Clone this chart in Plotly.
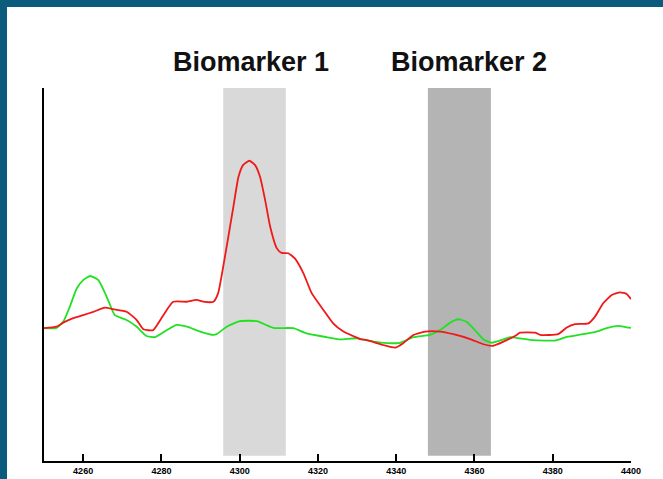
import plotly.graph_objects as go

# Mass-to-charge positions (m/z) and intensities of the two spectra
red_mz = [4250, 4253.2, 4254.9, 4257.5, 4260.0, 4262.6, 4265.6, 4267.7, 4271.1, 4273.7,
          4275.4, 4277.9, 4280.5, 4283.0, 4286.5, 4289.0, 4290.7, 4293.3, 4294.5, 4295.8,
          4297.1, 4298.4, 4299.7, 4300.9, 4302.5, 4303.9, 4305.2, 4306.5, 4307.8, 4309.5,
          4310.7, 4312.4, 4314.1, 4316.3, 4318.4, 4321.4, 4323.9, 4326.5, 4329.0, 4330.8,
          4332.5, 4336.7, 4339.7, 4341.8, 4344.4, 4347.4, 4351.2, 4354.6, 4358.9, 4362.3,
          4364.8, 4367.4, 4370.8, 4371.6, 4375.5, 4376.8, 4381.4, 4383.6, 4385.7, 4389.1,
          4390.8, 4392.9, 4395.1, 4397.2, 4398.9, 4400]
red_int = [35.6, 36.0, 37.1, 38.3, 39.1, 40.0, 41.1, 40.7, 40.0, 37.8,
           35.3, 35.1, 39.1, 42.7, 42.7, 43.2, 42.7, 42.7, 45.0, 52.1,
           60.1, 68.2, 76.2, 79.4, 80.5, 79.4, 76.2, 70.0, 62.8, 57.0,
           55.8, 55.7, 54.3, 50.3, 45.0, 40.5, 36.9, 34.7, 33.5, 32.7,
           32.4, 31.1, 30.4, 31.6, 33.8, 34.7, 34.7, 34.0, 32.7, 31.3,
           30.9, 32.0, 33.8, 34.4, 34.4, 33.8, 34.0, 35.8, 36.7, 36.9,
           38.7, 42.3, 44.5, 45.2, 44.8, 43.4]

green_mz = [4250, 4253.2, 4254.9, 4256.6, 4258.4, 4260.0, 4261.8, 4263.9, 4265.6, 4266.9,
            4268.1, 4271.1, 4273.7, 4276.2, 4278.4, 4281.4, 4283.9, 4286.5, 4289.9, 4293.3,
            4294.1, 4296.7, 4300.1, 4304.4, 4308.6, 4313.7, 4317.1, 4322.2, 4325.6, 4329.9,
            4334.2, 4337.6, 4341.0, 4344.4, 4348.6, 4351.2, 4353.8, 4355.9, 4358.0, 4360.1,
            4362.3, 4364.4, 4367.4, 4369.1, 4371.6, 4375.0, 4380.6, 4383.6, 4387.8, 4391.2,
            4393.8, 4396.8, 4398.9, 4400]
green_int = [35.6, 35.7, 37.3, 41.4, 46.3, 48.5, 49.6, 48.5, 45.0, 41.8,
             39.1, 37.8, 36.0, 33.5, 33.2, 35.1, 36.5, 36.0, 34.7, 33.8,
             34.0, 36.0, 37.5, 37.5, 35.7, 35.6, 34.2, 33.2, 32.6, 32.9,
             32.0, 31.6, 31.7, 33.2, 33.8, 35.1, 37.1, 38.0, 37.3, 35.1,
             32.6, 31.7, 32.6, 33.2, 32.9, 32.4, 32.3, 33.3, 34.0, 34.7,
             35.6, 36.2, 35.8, 35.7]

# Biomarker windows (m/z start, end), labels and fill colours
marker_names = ["Biomarker 1", "Biomarker 2"]
marker_windows = [(4295.8, 4311.8), (4348.1, 4364.2)]
marker_label_x = [4302.9, 4358.6]
marker_fills = ["#d9d9d9", "#b4b4b4"]

tick_vals = [4260, 4280, 4300, 4320, 4340, 4360, 4380, 4400]
tick_text = ["4260", "4280", "4300", "4320", "4340", "4360", "4380", "4400"]

frame_color = "#0b5b7c"

fig = go.Figure()

fig.add_trace(go.Scatter(x=green_mz, y=green_int, mode="lines",
                         line=dict(color="#22e022", width=1.8, shape="spline", smoothing=0.5),
                         hoverinfo="skip"))
fig.add_trace(go.Scatter(x=red_mz, y=red_int, mode="lines",
                         line=dict(color="#f01818", width=1.8, shape="spline", smoothing=0.5),
                         hoverinfo="skip"))

shapes = []
for (x0, x1), fill in zip(marker_windows, marker_fills):
    shapes.append(dict(type="rect", xref="x", yref="paper", x0=x0, x1=x1, y0=0.014, y1=1.0,
                       fillcolor=fill, line=dict(width=0), layer="below"))

# dark frame along the top and left edges of the page
shapes.append(dict(type="rect", xref="paper", yref="paper", x0=-0.2, x1=1.2,
                   y0=1.217, y1=1.5, fillcolor=frame_color, line=dict(width=0), layer="above"))
shapes.append(dict(type="rect", xref="paper", yref="paper", x0=-0.2, x1=-0.063,
                   y0=-0.2, y1=1.5, fillcolor=frame_color, line=dict(width=0), layer="above"))

annotations = []
for name, lx in zip(marker_names, marker_label_x):
    annotations.append(dict(text=name, x=lx, xref="x", y=1.07, yref="paper",
                            xanchor="center", yanchor="middle", showarrow=False,
                            font=dict(family="Liberation Sans, Arial, sans-serif",
                                      size=27, color="#111111", weight="bold")))

fig.update_layout(
    width=663, height=479,
    margin=dict(l=44, r=32, t=88, b=18),
    paper_bgcolor="white", plot_bgcolor="white",
    showlegend=False,
    shapes=shapes,
    annotations=annotations,
    xaxis=dict(range=[4250, 4400], tickvals=tick_vals, ticktext=tick_text,
               automargin=False,
               showgrid=False, zeroline=False, showline=True, linecolor="black",
               linewidth=1.5, ticks="inside", ticklen=7, tickwidth=1.5, tickcolor="black",
               tickfont=dict(family="Liberation Sans Narrow, Liberation Sans, Arial",
                             size=9, color="black", weight="bold")),
    yaxis=dict(range=[0, 100], automargin=False, showgrid=False, zeroline=False,
               showline=True, linecolor="black", linewidth=1.5,
               showticklabels=False, ticks=""),
)

fig.write_html("out.html")
